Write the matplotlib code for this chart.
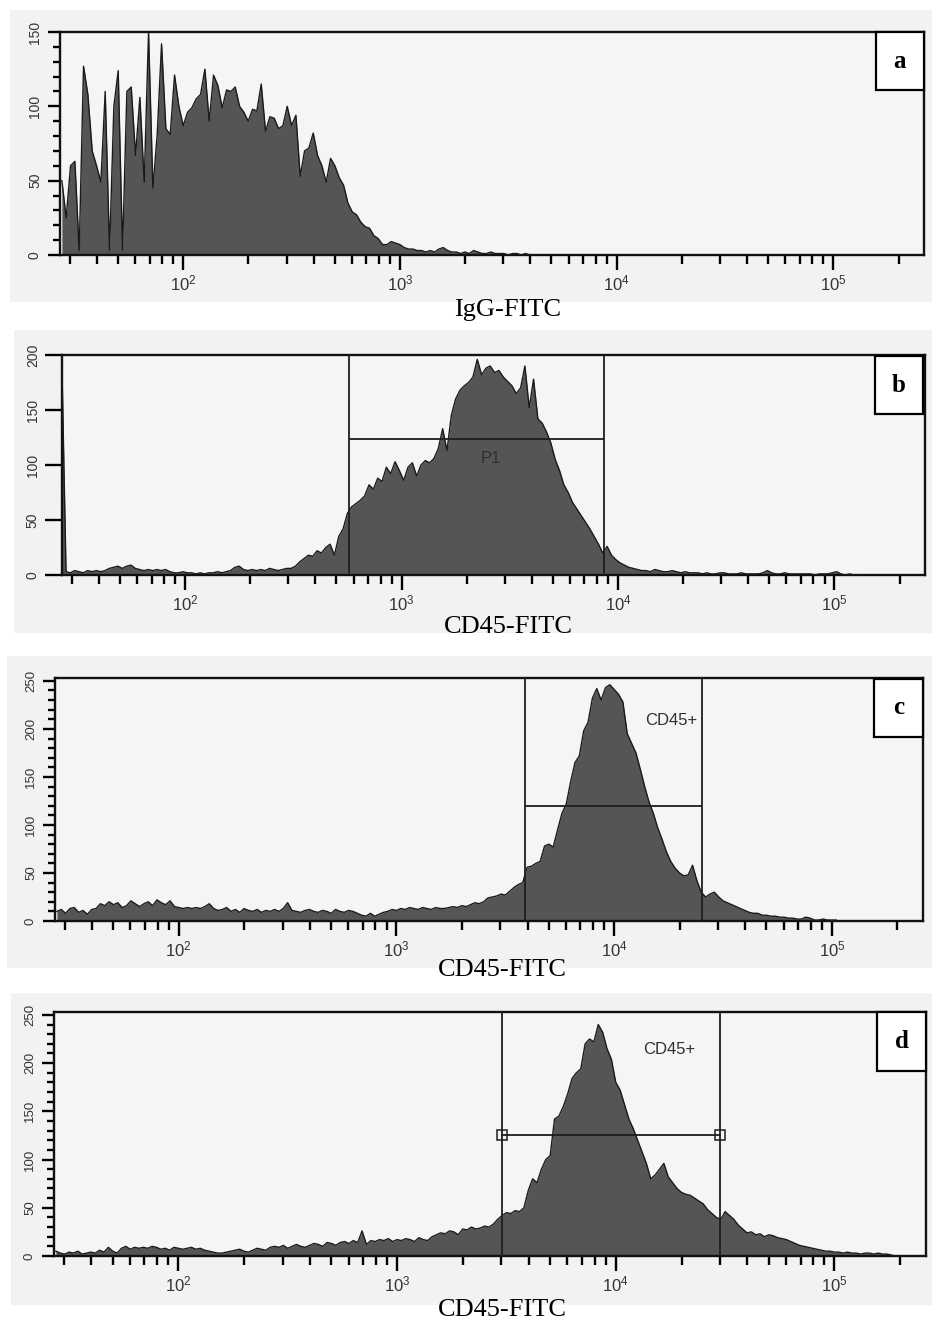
import numpy as np
import matplotlib
matplotlib.use('Agg')
import matplotlib.pyplot as plt
from matplotlib.patches import Rectangle
from matplotlib.ticker import FixedLocator, NullFormatter

plt.rcParams['font.family'] = 'Liberation Sans'
plt.rcParams['mathtext.fontset'] = 'custom'
plt.rcParams['mathtext.rm'] = 'Liberation Sans'
plt.rcParams['mathtext.it'] = 'Liberation Sans:italic'
plt.rcParams['mathtext.bf'] = 'Liberation Sans:bold'

# DATA
# histogram counts, one value per channel, channels 0.02 decade apart
# log10 position of the first channel for each panel
chan_start = [1.44, 1.43, 1.44, 1.44]
chan_step = 0.02

counts_a = [
    50, 25, 60, 63, 3, 127, 108, 70, 60, 49,
    110, 3, 100, 124, 3, 110, 113, 67, 106, 49,
    150, 45, 81, 142, 85, 81, 121, 100, 87, 96,
    99, 105, 108, 125, 90, 121, 114, 99, 111, 110,
    113, 100, 96, 90, 98, 97, 115, 83, 93, 92,
    85, 87, 100, 87, 94, 53, 70, 72, 82, 67,
    60, 49, 65, 60, 52, 47, 35, 29, 27, 22,
    19, 18, 13, 11, 7, 7, 9, 8, 7, 5,
    4, 4, 3, 3, 2, 3, 2, 4, 5, 3,
    2, 2, 1, 2, 1, 3, 2, 1, 1, 2,
    1, 1, 1, 0, 1, 1, 0, 1, 0, 0,
]

counts_b = [
    200, 3, 2, 4, 3, 2, 4, 3, 4, 3,
    4, 6, 7, 8, 6, 8, 9, 6, 5, 4,
    5, 4, 5, 4, 5, 3, 2, 2, 3, 2,
    2, 1, 2, 1, 2, 2, 3, 2, 3, 4,
    7, 8, 5, 4, 5, 4, 5, 4, 6, 5,
    4, 5, 6, 6, 8, 12, 15, 18, 17, 22,
    20, 25, 28, 18, 35, 42, 56, 62, 65, 68,
    72, 82, 78, 88, 85, 98, 92, 103, 95, 86,
    98, 102, 90, 100, 104, 102, 106, 115, 133, 113,
    145, 160, 168, 172, 175, 180, 196, 182, 188, 190,
    184, 186, 180, 176, 172, 165, 170, 190, 152, 178,
    142, 138, 130, 120, 105, 95, 82, 75, 66, 60,
    54, 48, 42, 35, 28, 20, 26, 18, 14, 11,
    9, 7, 6, 5, 4, 4, 3, 5, 4, 3,
    3, 4, 3, 2, 3, 2, 2, 2, 1, 2,
    1, 1, 2, 2, 1, 1, 1, 2, 1, 1,
    1, 1, 2, 4, 2, 1, 1, 2, 1, 1,
    1, 1, 1, 1, 0, 1, 1, 1, 2, 3,
    1, 0, 1, 0, 0, 0,
]

counts_c = [
    10, 12, 8, 13, 14, 9, 11, 7, 12, 13,
    18, 16, 20, 17, 19, 14, 16, 21, 18, 15,
    18, 20, 16, 22, 19, 17, 21, 15, 14, 13,
    14, 13, 14, 13, 15, 18, 13, 11, 12, 14,
    10, 12, 9, 13, 11, 10, 12, 9, 11, 10,
    12, 10, 13, 19, 11, 10, 9, 11, 12, 10,
    9, 11, 10, 8, 12, 10, 9, 11, 10, 8,
    6, 5, 8, 5, 7, 9, 10, 12, 11, 13,
    12, 14, 13, 12, 14, 13, 12, 14, 13, 13,
    14, 15, 14, 16, 15, 17, 19, 18, 20, 24,
    25, 26, 28, 27, 31, 35, 38, 40, 56, 57,
    60, 62, 78, 80, 77, 95, 112, 122, 145, 165,
    172, 198, 207, 232, 242, 230, 243, 246, 241, 236,
    228, 195, 185, 175, 158, 140, 124, 112, 97, 85,
    72, 62, 55, 50, 47, 48, 58, 42, 30, 25,
    28, 30, 25, 21, 19, 17, 15, 13, 11, 9,
    8, 8, 6, 6, 5, 5, 4, 4, 3, 3,
    2, 2, 4, 3, 1, 1, 2, 1, 1, 1,
]

counts_d = [
    5, 3, 2, 4, 3, 5, 2, 3, 4, 3,
    6, 4, 9, 5, 3, 8, 10, 7, 9, 8,
    9, 8, 10, 9, 7, 8, 6, 9, 8, 7,
    8, 9, 7, 8, 6, 5, 4, 3, 3, 4,
    5, 6, 7, 5, 4, 6, 8, 7, 6, 9,
    10, 9, 11, 8, 10, 12, 10, 9, 11, 13,
    12, 10, 14, 13, 11, 14, 15, 13, 16, 14,
    26, 12, 16, 15, 17, 16, 18, 15, 17, 16,
    18, 17, 15, 19, 17, 16, 20, 22, 24, 23,
    26, 25, 22, 28, 27, 30, 28, 29, 31, 30,
    33, 38, 42, 45, 44, 47, 46, 50, 68, 80,
    76, 90, 100, 104, 142, 145, 155, 168, 184, 190,
    194, 220, 225, 222, 240, 232, 215, 204, 180, 172,
    157, 142, 132, 120, 108, 96, 80, 84, 90, 96,
    82, 76, 70, 66, 64, 63, 60, 57, 54, 48,
    44, 40, 38, 46, 42, 38, 32, 28, 24, 25,
    22, 23, 20, 22, 21, 19, 18, 17, 15, 13,
    11, 10, 9, 8, 7, 6, 5, 5, 4, 4,
    3, 4, 3, 3, 2, 3, 3, 2, 3, 2,
    2, 1, 0,
]

panel_counts = [counts_a, counts_b, counts_c, counts_d]
panel_letters = ['a', 'b', 'c', 'd']
x_titles = ['IgG-FITC', 'CD45-FITC', 'CD45-FITC', 'CD45-FITC']
y_max = [150, 200, 253, 253]
y_minor_step = [10, None, 10, 10]

# gates: [low, high, marker height]
gates = [None, [570, 8650, 124], [3900, 25400, 120], [3020, 30000, 125]]
gate_names = [None, 'P1', 'CD45+', 'CD45+']
gate_name_pos = [None, (2580, 106), (18300, 209), (17600, 214)]

x_major = [1e2, 1e3, 1e4, 1e5]
x_major_labels = [r'$10^{2}$', r'$10^{3}$', r'$10^{4}$', r'$10^{5}$']

# LAYOUT (pixels of the 932x1322 figure)
W, H = 932, 1322
axes_px = [(60, 32, 924, 255), (62, 355, 925, 575),
           (55, 678, 923, 921), (54, 1012, 926, 1256)]
back_px = [(10, 10, 932, 302), (14, 330, 932, 633),
           (7, 656, 932, 968), (11, 993, 932, 1305)]
letter_px = [(876, 32, 924, 90), (875, 356, 923, 414),
             (874, 679, 923, 737), (877, 1012, 926, 1071)]
title_px = [(508, 316), (508, 633), (502, 976), (502, 1316)]


def fig_rect(l, t, r, b):
    return [l / W, 1 - b / H, (r - l) / W, (b - t) / H]


fig = plt.figure(figsize=(W / 100, H / 100), dpi=100)
fig.patch.set_facecolor('white')

for k in range(4):
    # light grey scanned panel
    l, b0, w, h = fig_rect(*back_px[k])
    fig.add_artist(Rectangle((l, b0), w, h, transform=fig.transFigure,
                             facecolor='#f2f2f2', edgecolor='none', zorder=-1))

    ax = fig.add_axes(fig_rect(*axes_px[k]))
    ax.set_facecolor('#f5f5f5')
    ax.set_xscale('log')
    ax.set_xlim(27, 262144)
    ax.set_ylim(0, y_max[k])

    counts = np.array(panel_counts[k], dtype=float)
    chans = 10 ** (chan_start[k] + chan_step * np.arange(len(counts)))
    ax.fill_between(chans, counts, 0, color='#555555', lw=0, zorder=2)
    ax.plot(chans, counts, color='#1a1a1a', lw=1.0, zorder=3)

    # x ticks
    ax.xaxis.set_major_locator(FixedLocator(x_major))
    ax.set_xticklabels(x_major_labels)
    minors = [m * 10.0 ** e for e in range(1, 6) for m in range(2, 10)]
    minors = [v for v in minors if 27 < v < 262144]
    ax.xaxis.set_minor_locator(FixedLocator(minors))
    ax.xaxis.set_minor_formatter(NullFormatter())
    ax.tick_params(axis='x', which='major', direction='out', length=11,
                   width=1.7, pad=2, labelsize=12, labelcolor='#333333')
    ax.tick_params(axis='x', which='minor', direction='out', length=6.5,
                   width=1.7)

    # y ticks
    ax.yaxis.set_major_locator(FixedLocator(list(range(0, y_max[k] + 1, 50))))
    if y_minor_step[k]:
        ax.yaxis.set_minor_locator(
            FixedLocator(list(range(0, y_max[k] + 1, y_minor_step[k]))))
    ax.tick_params(axis='y', which='major', direction='out',
                   length=12 if k == 1 else 9, width=1.7, pad=4,
                   labelsize=10 if k < 2 else 9.5, labelcolor='#333333',
                   labelrotation=90)
    ax.tick_params(axis='y', which='minor', direction='out', length=5,
                   width=1.7)
    for lab in ax.get_yticklabels():
        lab.set_va('center')

    for sp in ax.spines.values():
        sp.set_linewidth(1.7)
        sp.set_color('#111111')

    # gates
    if gates[k]:
        lo, hi, gy = gates[k]
        ax.axvline(lo, color='#1e1e1e', lw=1.3, zorder=4)
        ax.axvline(hi, color='#1e1e1e', lw=1.3, zorder=4)
        if k == 3:
            ax.plot([lo, hi], [gy, gy], color='#1e1e1e', lw=1.3, zorder=4,
                    marker='s', ms=7, mfc='none', mec='#1e1e1e', mew=1.1)
        else:
            ax.hlines(gy, lo, hi, color='#1e1e1e', lw=1.3, zorder=4)
        gx, gyy = gate_name_pos[k]
        ax.text(gx, gyy, gate_names[k], ha='center', va='center',
                fontsize=12, color='#303030', zorder=5)

    # panel letter box
    l, b0, w, h = fig_rect(*letter_px[k])
    fig.add_artist(Rectangle((l, b0), w, h, transform=fig.transFigure,
                             facecolor='white', edgecolor='black', lw=1.6,
                             zorder=5))
    fig.text(l + w / 2, b0 + h / 2, panel_letters[k], ha='center',
             va='center', fontsize=18, fontweight='bold',
             family='Liberation Serif', zorder=6)

    # axis title under each panel
    tx, ty = title_px[k]
    fig.text(tx / W, 1 - ty / H, x_titles[k], ha='center', va='baseline',
             fontsize=19, family='Liberation Serif', zorder=6)

fig.savefig('out.png', dpi=100)
